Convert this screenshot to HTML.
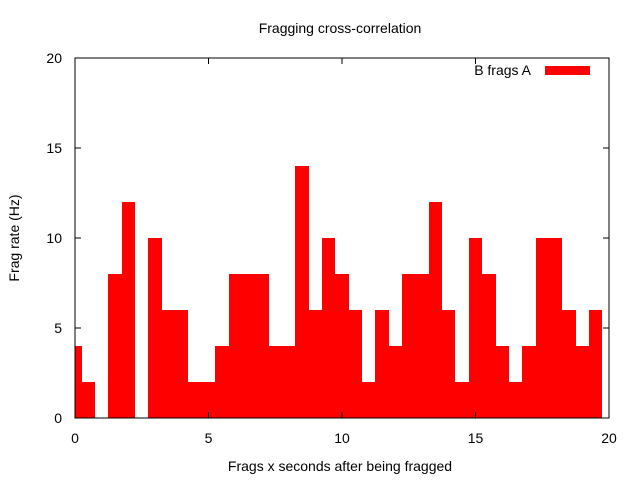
<!DOCTYPE html>
<html><head><meta charset="utf-8"><style>body{margin:0;background:#fff}svg{display:block;font-family:"Liberation Sans",sans-serif}</style></head>
<body>
<svg id="chart" width="640" height="480">
<text x="340" y="33" font-size="14" text-anchor="middle">Fragging cross-correlation</text>
<g id="bars" shape-rendering="crispEdges"></g>
<rect x="75" y="58" width="534" height="360" fill="none" stroke="#000" stroke-width="1" shape-rendering="crispEdges"/>
<g id="axes" shape-rendering="crispEdges"></g>
<text x="340" y="471" font-size="14" text-anchor="middle">Frags x seconds after being fragged</text>
<text transform="translate(19,238) rotate(-90)" font-size="14" text-anchor="middle">Frag rate (Hz)</text>
<g>
<text x="531" y="75" font-size="14" text-anchor="end">B frags A</text>
<rect x="545" y="66" width="45" height="9" fill="#f00"/>
</g>
</svg>
<script>
const binCenters=[0,0.5,1,1.5,2,2.5,3,3.5,4,4.5,5,5.5,6,6.5,7,7.5,8,8.5,9,9.5,10,10.5,11,11.5,12,12.5,13,13.5,14,14.5,15,15.5,16,16.5,17,17.5,18,18.5,19,19.5,20];
const rates=[4,2,0,8,12,0,10,6,6,2,2,4,8,8,8,4,4,14,6,10,8,6,2,6,4,8,8,12,6,2,10,8,4,2,4,10,10,6,4,6,0];
const xTicks=[0,5,10,15,20];
const yTicks=[0,5,10,15,20];
const binWidth=0.5;
const X0=75,X1=609,Y0=418,Y1=58;
const xs=v=>X0+(v-0)/(20-0)*(X1-X0);
const ys=v=>Y0-(v-0)/(20-0)*(Y0-Y1);
const NS='http://www.w3.org/2000/svg';
const bars=document.getElementById('bars');
binCenters.forEach((c,i)=>{
  const l=Math.round(Math.max(X0,xs(c-binWidth/2))), r=Math.round(Math.min(X1,xs(c+binWidth/2)));
  if(r<=l||rates[i]<=0) return;
  const rc=document.createElementNS(NS,'rect');
  rc.setAttribute('x',l);rc.setAttribute('width',r-l);
  rc.setAttribute('y',ys(rates[i]));rc.setAttribute('height',Y0-ys(rates[i]));
  rc.setAttribute('fill','#f00');
  
  
  bars.appendChild(rc);
});
const axes=document.getElementById('axes');
function line(x1,y1,x2,y2){const l=document.createElementNS(NS,'line');l.setAttribute('x1',x1);l.setAttribute('y1',y1);l.setAttribute('x2',x2);l.setAttribute('y2',y2);l.setAttribute('stroke','#000');


axes.appendChild(l);}
function txt(x,y,s,a){const t=document.createElementNS(NS,'text');t.setAttribute('x',x);t.setAttribute('y',y);t.setAttribute('font-size','14');t.setAttribute('text-anchor',a);t.textContent=s;


axes.appendChild(t);}
xTicks.forEach(v=>{const x=xs(v);line(x,Y0,x,Y0-6);line(x,Y1,x,Y1+6);txt(x,443,String(v),'middle');});
yTicks.forEach(v=>{const y=ys(v);line(X0,y,X0+6,y);line(X1,y,X1-6,y);txt(62,y+5,String(v),'end');});
</script>
</body></html>
